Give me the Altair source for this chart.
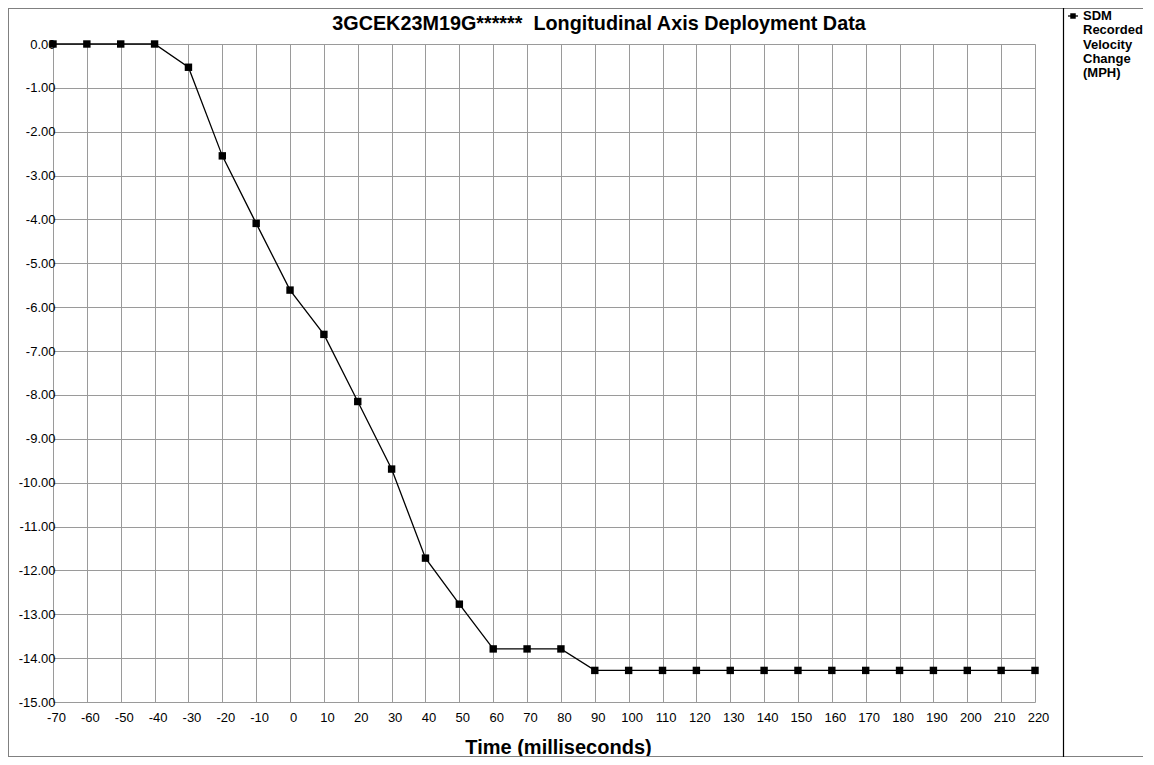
import altair as alt
import pandas as pd

# ---- data ----
time_ms = [-70, -60, -50, -40, -30, -20, -10, 0, 10, 20, 30, 40, 50, 60, 70,
           80, 90, 100, 110, 120, 130, 140, 150, 160, 170, 180, 190, 200, 210, 220]
velocity = [0.00, 0.00, 0.00, 0.00, -0.53, -2.55, -4.09, -5.61, -6.62, -8.15,
            -9.69, -11.72, -12.77, -13.79, -13.79, -13.79, -14.28, -14.28, -14.28,
            -14.28, -14.28, -14.28, -14.28, -14.28, -14.28, -14.28, -14.28, -14.28,
            -14.28, -14.28]
y_ticks = [-15, -14, -13, -12, -11, -10, -9, -8, -7, -6, -5, -4, -3, -2, -1, 0]
x_ticks = time_ms
chart_title = "3GCEK23M19G******\u00a0 Longitudinal Axis Deployment Data"
x_title = "Time (milliseconds)"
legend_lines = ["SDM", "Recorded", "Velocity", "Change", "(MPH)"]

FONT = "Liberation Sans"
W, H = 982, 658

df = pd.DataFrame({"t": time_ms, "v": velocity})
one = pd.DataFrame({"k": [0]})

x_axis = alt.Axis(
    values=x_ticks, title=x_title, grid=True, domain=False, tickSize=0,
    labelPadding=9, labelOffset=3, labelFontSize=13, labelFont=FONT, labelColor="black",
    labelExpr="replace(datum.label, '\u2212', '-')", labelOverlap=False, labelBound=False,
    titleFont=FONT, titleFontSize=20, titleFontWeight="bold", titleColor="black",
    titleX=505, titleY=45, titleBaseline="middle", labelFlush=False,
)
y_axis = alt.Axis(
    values=y_ticks, format=".2f", title=None, grid=True, domain=False, tickSize=0,
    labelPadding=-2, labelFontSize=13, labelFont=FONT, labelColor="black",
    labelExpr="replace(datum.label, '\u2212', '-')", labelFlush=False,
    labelOverlap=False,
)
xscale = alt.Scale(domain=[-70, 220], nice=False, zero=False)
yscale = alt.Scale(domain=[-15, 0], nice=False, zero=False)

line = alt.Chart(df).mark_line(color="black", strokeWidth=1.3).encode(
    x=alt.X("t:Q", scale=xscale, axis=x_axis), y=alt.Y("v:Q", scale=yscale, axis=y_axis))
pts = alt.Chart(df).mark_point(shape="square", filled=True, size=55, color="black",
                               opacity=1).encode(
    x=alt.X("t:Q", scale=xscale, axis=x_axis), y=alt.Y("v:Q", scale=yscale, axis=y_axis))

top_b = alt.Chart(one).mark_rule(color="#808080", strokeWidth=1).encode(
    x=alt.value(-45), x2=alt.value(1090), y=alt.value(-35.5))
bot_b = alt.Chart(one).mark_rule(color="#808080", strokeWidth=1).encode(
    x=alt.value(-45), x2=alt.value(1090), y=alt.value(712.5))
left_b = alt.Chart(one).mark_rule(color="#808080", strokeWidth=1).encode(
    x=alt.value(-44.5), y=alt.value(-36), y2=alt.value(713))

sep = alt.Chart(one).mark_rule(color="black", strokeWidth=1.2).encode(
    x=alt.value(1010.5), y=alt.value(-36), y2=alt.value(713))

title = alt.Chart(one).mark_text(
    text=chart_title, font=FONT, fontSize=19.8, fontWeight="bold", color="black",
    align="center", baseline="middle").encode(x=alt.value(546), y=alt.value(-20))

leg_line = alt.Chart(one).mark_rule(color="black", strokeWidth=1.3).encode(
    x=alt.value(1015), x2=alt.value(1025), y=alt.value(-28))
leg_pt = alt.Chart(one).mark_point(shape="square", filled=True, size=30, color="black",
                                   opacity=1).encode(x=alt.value(1020), y=alt.value(-28))
leg_text = alt.Chart(one).mark_text(
    text="\n".join(legend_lines), lineBreak="\n", lineHeight=14.3, font=FONT, fontSize=13,
    fontWeight="bold", color="black", align="left", baseline="middle").encode(
    x=alt.value(1030), y=alt.value(-28))

chart = alt.layer(top_b, bot_b, left_b, line, pts, sep, title, leg_line, leg_pt,
                  leg_text).properties(
    width=W, height=H,
    autosize=alt.AutoSizeParams(type="none"),
    padding={"left": 45, "top": 36, "right": 111, "bottom": 55},
    background="white",
).configure_view(strokeWidth=0).configure_axis(
    gridColor="#9a9a9a", gridWidth=1, gridOpacity=1, labelOverlap=False)

chart.save("out.html", embed_options={"renderer": "svg", "actions": False})
